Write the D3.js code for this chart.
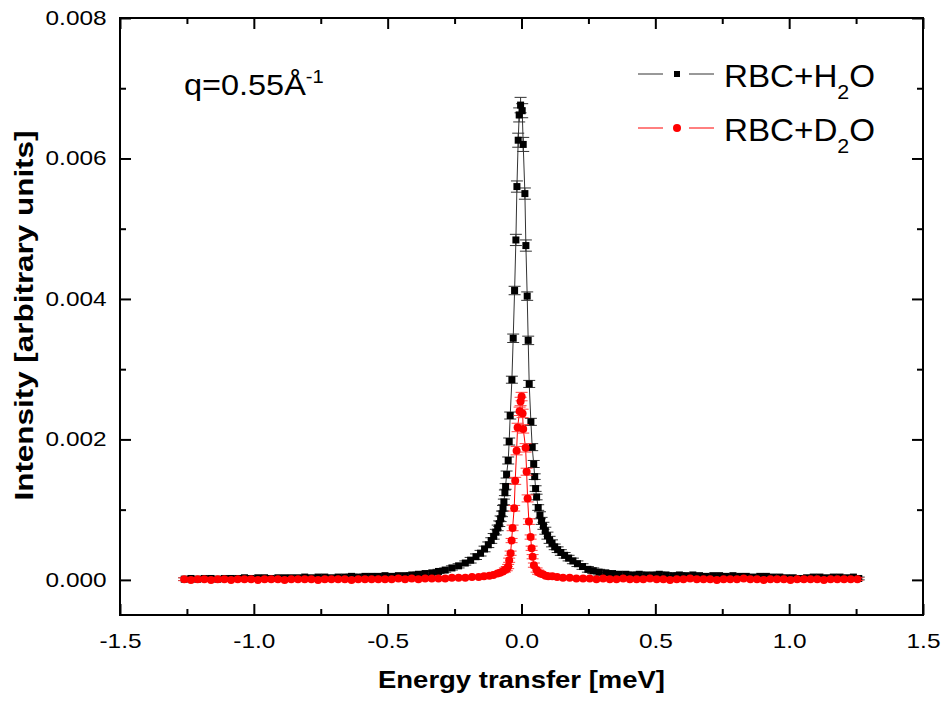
<!DOCTYPE html>
<html>
<head>
<meta charset="utf-8">
<script src="https://cdn.jsdelivr.net/npm/d3@7"></script>
<style>
  html, body { margin: 0; padding: 0; background: #fff; }
  svg { display: block; font-family: "Liberation Sans", Arial, sans-serif; }
</style>
</head>
<body>
<svg id="chart" width="944" height="702"></svg>
<script>
// Quasi-elastic spectra, intensities listed in units of 1e-5 (arbitrary units)
const UNIT = 1e-5;

// RBC + H2O : energy transfer (meV), intensity, error
const h2oE = [
  -1.26,-1.235,-1.21,-1.185,-1.16,-1.135,-1.11,-1.085,-1.06,-1.035,-1.01,-0.985,-0.96,-0.935,-0.91,
  -0.885,-0.86,-0.835,-0.81,-0.785,-0.76,-0.735,-0.71,-0.685,-0.66,-0.635,-0.61,-0.585,-0.56,-0.535,
  -0.51,-0.485,-0.46,-0.435,-0.41,-0.385,-0.36,-0.335,-0.31,-0.285,-0.26,-0.235,-0.21,
  -0.19,-0.17,-0.153,-0.138,-0.124,-0.113,-0.104,-0.096,-0.089,-0.083,-0.078,-0.073,-0.069,
  -0.0658,-0.0620,-0.0594,-0.0557,-0.0497,-0.0460,-0.0422,-0.0359,-0.0310,-0.0258,-0.0209,-0.0171,
  -0.0123,-0.0086,-0.0034,0.0026,0.0064,0.0127,0.0164,0.0213,0.0250,0.0288,0.0351,0.0400,0.0456,
  0.0493,0.0527,0.0564,0.0624,
  0.069,0.075,0.082,0.089,0.097,0.105,0.114,0.124,0.135,0.147,0.161,0.176,0.192,0.209,0.228,0.248,
  0.268,0.29,
  0.315,0.34,0.365,0.39,0.415,0.44,0.465,0.49,0.515,0.54,0.565,0.59,0.615,0.64,0.665,0.69,0.715,
  0.74,0.765,0.79,0.815,0.84,0.865,0.89,0.915,0.94,0.965,0.99,1.015,1.04,1.065,1.09,1.115,1.14,
  1.165,1.19,1.215,1.24,1.26
];
const h2oI = [
  1,2,1,2,2,1,2,2,2,3,2,3,3,2,3,
  3,3,3,4,3,4,4,3,4,4,5,4,5,5,5,
  6,5,6,6,7,8,9,10,12,14,17,20,24,
  28,33,38,44,50,56,62,68,74,80,87,94,102,
  111,124,133,150,170,197,234,285,344,412,484,560,
  626,662,676,668,620,550,476,404,341,279,225,189,165,
  147,130,118,103,
  92,84,77,70,63,57,52,47,43,39,35,31,27,23,19,15,
  13,11,
  10,9,8,8,7,8,7,7,8,7,6,7,6,7,6,5,6,
  6,5,6,5,5,4,5,5,4,4,3,3,2,3,4,4,3,
  4,4,3,4,2
];
const h2oErr = [
  2,2,2,2,2,2,2,2,2,2,2,2,2,2,2,
  2,2,2,2,2,2,2,2,2,2,3,3,3,3,3,
  3,3,3,3,3,3,3,3,3,3,3,3,3,
  4,4,4,4,4,4,4,4,4,4,4,4,4,
  4,4,4,5,5,5,5,5,6,6,8,8,
  10,10,11,10,10,8,8,6,6,5,5,5,5,
  4,4,4,4,
  5,5,5,5,5,5,5,4,4,4,4,4,4,4,4,4,
  4,4,
  3,3,3,3,3,3,3,3,3,3,3,3,2,2,2,2,2,
  2,2,2,2,2,2,2,2,2,2,2,2,2,2,2,2,2,
  2,2,2,2,2
];

// RBC + D2O : energy transfer (meV), intensity, error
const d2oE = [
  -1.26,-1.235,-1.21,-1.185,-1.16,-1.135,-1.11,-1.085,-1.06,-1.035,-1.01,-0.985,-0.96,-0.935,-0.91,
  -0.885,-0.86,-0.835,-0.81,-0.785,-0.76,-0.735,-0.71,-0.685,-0.66,-0.635,-0.61,-0.585,-0.56,-0.535,
  -0.51,-0.485,-0.46,-0.435,-0.41,-0.385,-0.36,-0.335,-0.31,-0.285,-0.26,-0.235,-0.21,
  -0.185,-0.16,-0.14,-0.12,-0.105,-0.09,-0.08,-0.07,-0.062,-0.055,-0.0497,-0.046,
  -0.0407,-0.0370,-0.0333,-0.0273,-0.0235,-0.0183,-0.0146,-0.0071,-0.0034,0.0004,0.0041,0.0064,
  0.0153,0.0191,0.0228,0.0277,0.0340,0.0378,0.0415,0.0463,0.0564,
  0.062,0.07,0.08,0.09,0.1,0.115,0.133,0.155,0.18,0.205,0.23,0.255,0.28,0.305,
  0.33,0.355,0.38,0.405,0.43,0.455,0.48,0.505,0.53,0.555,0.58,0.605,0.63,0.655,0.68,0.705,0.73,
  0.755,0.78,0.805,0.83,0.855,0.88,0.905,0.93,0.955,0.98,1.005,1.03,1.055,1.08,1.105,1.13,1.155,
  1.18,1.205,1.23,1.255
];
const d2oI = [
  1,0,1,1,0,1,1,0,1,1,1,0,1,1,1,
  0,1,1,1,1,0,1,1,1,1,0,1,1,1,1,
  1,1,2,1,2,1,2,2,2,2,3,3,3,
  4,4,5,6,7,9,10,12,14,16,19,28,
  38,56,74,102,141,184,217,240,254,261,237,215,
  188,154,116,83,61,45,33,21,14,
  11,9,8,6,5,5,4,3,3,2,2,2,1,2,
  1,1,2,1,1,1,2,1,1,0,1,1,2,1,1,1,0,
  1,1,1,2,1,1,0,1,1,1,0,1,1,1,1,0,1,
  1,1,1,1
];
const d2oErr = [
  2,2,2,2,2,2,2,2,2,2,2,2,2,2,2,
  2,2,2,2,2,2,2,2,2,2,2,2,2,2,2,
  2,2,2,2,2,2,2,2,2,2,2,2,2,
  2,2,2,2,2,2,2,2,3,3,3,3,
  3,3,4,4,5,6,6,6,6,6,6,6,
  6,5,5,4,3,3,3,3,3,
  3,2,2,2,2,2,2,2,2,2,2,2,2,2,
  2,2,2,2,2,2,2,2,2,2,2,2,2,2,2,2,2,
  2,2,2,2,2,2,2,2,2,2,2,2,2,2,2,2,2,
  2,2,2,2
];

// axis ticks
const xMajor = [-1.5, -1.0, -0.5, 0.0, 0.5, 1.0, 1.5];
const xMinor = [-1.25, -0.75, -0.25, 0.25, 0.75, 1.25];
const yMajor = [0.000, 0.002, 0.004, 0.006, 0.008];
const yMinor = [0.001, 0.003, 0.005, 0.007];

const seriesNames = ["RBC+H", "RBC+D"];

const svg = d3.select("#chart");
const W = 944, H = 702;
const plot = { left: 120, right: 923, top: 18, bottom: 615 };
const FONT = "Liberation Sans, Arial, sans-serif";

svg.append("rect").attr("width", W).attr("height", H).attr("fill", "#fff");

const x = d3.scaleLinear().domain([-1.5, 1.5]).range([plot.left, plot.right]);
const y = d3.scaleLinear().domain([-0.0005, 0.008]).range([plot.bottom, plot.top]);

function build(E, I, Err) {
  return E.map((e, i) => ({ e, v: I[i] * UNIT, err: Err[i] * UNIT }));
}
const h2o = build(h2oE, h2oI, h2oErr);
const d2o = build(d2oE, d2oI, d2oErr);

// ---- axes: ticks point inward on all four sides
function styleAxis(g) {
  g.select(".domain").remove();
  g.selectAll(".tick line").attr("stroke", "#000").attr("stroke-width", 2);
}
function styleLabels(g) {
  g.selectAll("text").attr("font-size", 20).attr("fill", "#000")
    .attr("font-family", FONT).attr("transform", "scale(1.22,1)");
}
const fmtX = d => d.toFixed(1);
const fmtY = d => d.toFixed(3);

svg.append("g").attr("transform", `translate(0,${plot.bottom})`)
  .call(d3.axisBottom(x).tickValues(xMajor).tickSize(-11).tickPadding(19).tickFormat(fmtX))
  .call(styleAxis).call(styleLabels);
svg.append("g").attr("transform", `translate(0,${plot.bottom})`)
  .call(d3.axisBottom(x).tickValues(xMinor).tickSize(-6).tickFormat(""))
  .call(styleAxis);
svg.append("g").attr("transform", `translate(0,${plot.top})`)
  .call(d3.axisTop(x).tickValues(xMajor).tickSize(-11).tickFormat(""))
  .call(styleAxis);
svg.append("g").attr("transform", `translate(0,${plot.top})`)
  .call(d3.axisTop(x).tickValues(xMinor).tickSize(-6).tickFormat(""))
  .call(styleAxis);

svg.append("g").attr("transform", `translate(${plot.left},0)`)
  .call(d3.axisLeft(y).tickValues(yMajor).tickSize(-11).tickPadding(11).tickFormat(fmtY))
  .call(styleAxis).call(styleLabels);
svg.append("g").attr("transform", `translate(${plot.left},0)`)
  .call(d3.axisLeft(y).tickValues(yMinor).tickSize(-6).tickFormat(""))
  .call(styleAxis);
svg.append("g").attr("transform", `translate(${plot.right},0)`)
  .call(d3.axisRight(y).tickValues(yMajor).tickSize(-11).tickFormat(""))
  .call(styleAxis);
svg.append("g").attr("transform", `translate(${plot.right},0)`)
  .call(d3.axisRight(y).tickValues(yMinor).tickSize(-6).tickFormat(""))
  .call(styleAxis);

// frame
svg.append("rect")
  .attr("x", plot.left).attr("y", plot.top)
  .attr("width", plot.right - plot.left).attr("height", plot.bottom - plot.top)
  .attr("fill", "none").attr("stroke", "#000").attr("stroke-width", 2);

// ---- series
const line = d3.line().x(d => x(d.e)).y(d => y(d.v));

function drawSeries(data, opts) {
  const g = svg.append("g");
  g.append("path").datum(data)
    .attr("d", line).attr("fill", "none")
    .attr("stroke", opts.lineColor).attr("stroke-width", 1);

  const eb = g.append("g").attr("stroke", opts.errColor).attr("stroke-width", 1);
  eb.selectAll("line.v").data(data).join("line").attr("class", "v")
    .attr("x1", d => x(d.e)).attr("x2", d => x(d.e))
    .attr("y1", d => y(d.v - d.err)).attr("y2", d => y(d.v + d.err));
  eb.selectAll("line.t").data(data).join("line").attr("class", "t")
    .attr("x1", d => x(d.e) - opts.cap).attr("x2", d => x(d.e) + opts.cap)
    .attr("y1", d => y(d.v + d.err)).attr("y2", d => y(d.v + d.err));
  eb.selectAll("line.b").data(data).join("line").attr("class", "b")
    .attr("x1", d => x(d.e) - opts.cap).attr("x2", d => x(d.e) + opts.cap)
    .attr("y1", d => y(d.v - d.err)).attr("y2", d => y(d.v - d.err));

  if (opts.shape === "square") {
    g.selectAll("rect.m").data(data).join("rect").attr("class", "m")
      .attr("x", d => x(d.e) - opts.size / 2).attr("y", d => y(d.v) - opts.size / 2)
      .attr("width", opts.size).attr("height", opts.size).attr("fill", opts.fill);
  } else {
    g.selectAll("circle.m").data(data).join("circle").attr("class", "m")
      .attr("cx", d => x(d.e)).attr("cy", d => y(d.v))
      .attr("r", opts.size / 2).attr("fill", opts.fill);
  }
}

drawSeries(h2o, { lineColor: "#333", errColor: "#333", fill: "#000", shape: "square", size: 7, cap: 6 });
drawSeries(d2o, { lineColor: "#ff0000", errColor: "#ff4040", fill: "#ff0000", shape: "circle", size: 8, cap: 6 });

// ---- legend
const legend = svg.append("g");
const legendRows = [
  { name: seriesNames[0], sub: "2", tail: "O", y: 74, color: "#000", lineColor: "#333", shape: "square" },
  { name: seriesNames[1], sub: "2", tail: "O", y: 128, color: "#ff0000", lineColor: "#ff0000", shape: "circle" }
];
legendRows.forEach(r => {
  legend.append("line").attr("x1", 638).attr("x2", 663).attr("y1", r.y).attr("y2", r.y)
    .attr("stroke", r.lineColor).attr("stroke-width", 1);
  legend.append("line").attr("x1", 689).attr("x2", 714).attr("y1", r.y).attr("y2", r.y)
    .attr("stroke", r.lineColor).attr("stroke-width", 1);
  if (r.shape === "square") {
    legend.append("rect").attr("x", 677 - 3).attr("y", r.y - 3).attr("width", 6).attr("height", 6).attr("fill", r.color);
  } else {
    legend.append("circle").attr("cx", 677).attr("cy", r.y).attr("r", 4).attr("fill", r.color);
  }
  const t = legend.append("text")
    .attr("transform", `translate(724,${r.y + 13}) scale(1.07,1)`)
    .attr("font-size", 31).attr("fill", "#000");
  t.append("tspan").text(r.name);
  t.append("tspan").attr("font-size", 20).attr("dy", 12).text(r.sub);
  t.append("tspan").attr("dy", -12).text(r.tail);
});

// ---- annotation
const ann = svg.append("text")
  .attr("transform", "translate(184,95) scale(1.12,1)")
  .attr("font-size", 29).attr("fill", "#000");
ann.append("tspan").text("q=0.55Å");
ann.append("tspan").attr("font-size", 18).attr("dy", -12).text("-1");

// ---- axis titles
svg.append("text")
  .attr("x", (plot.left + plot.right) / 2).attr("y", 688)
  .attr("text-anchor", "middle").attr("font-size", 24).attr("font-weight", "bold")
  .attr("textLength", 287).attr("lengthAdjust", "spacingAndGlyphs")
  .text("Energy transfer [meV]");
svg.append("text")
  .attr("transform", `translate(33,${(plot.top + plot.bottom) / 2 - 1}) rotate(-90)`)
  .attr("text-anchor", "middle").attr("font-size", 26).attr("font-weight", "bold")
  .attr("textLength", 370).attr("lengthAdjust", "spacingAndGlyphs")
  .text("Intensity [arbitrary units]");
</script>
</body>
</html>
